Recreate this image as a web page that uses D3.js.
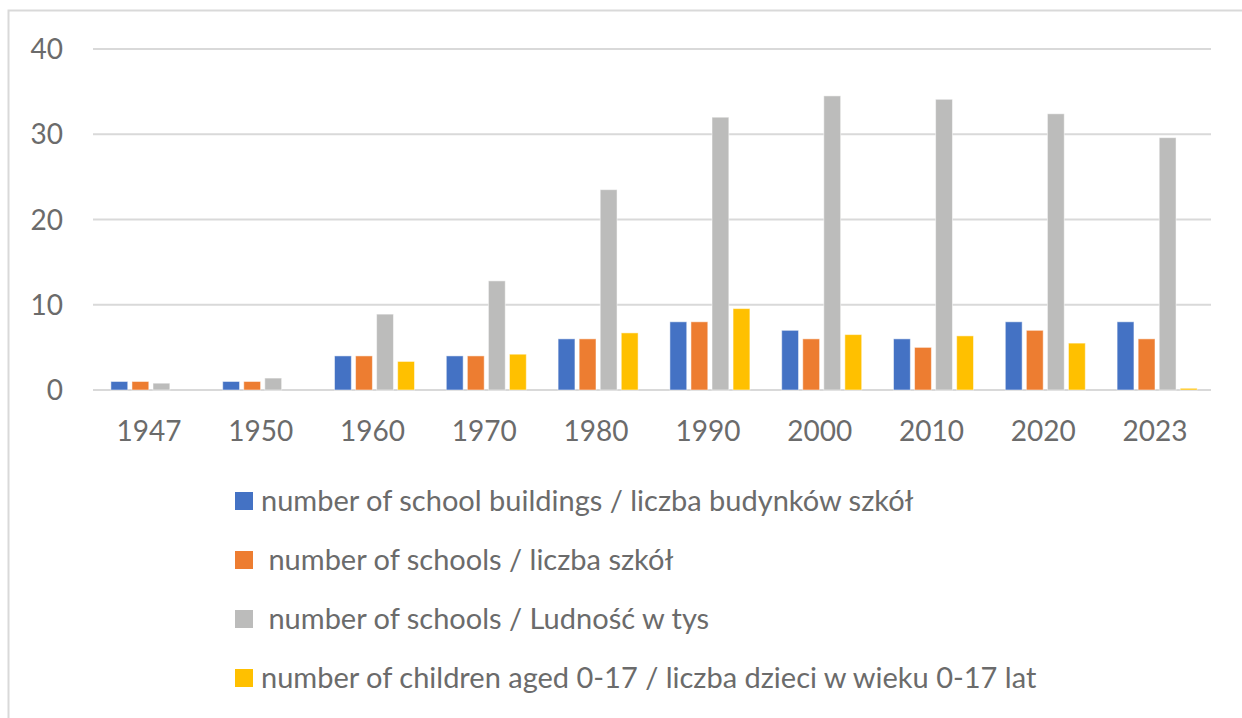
<!DOCTYPE html>
<html lang="en">
<head>
  <meta charset="UTF-8">
  <title>Schools chart</title>
  <style>
    body { margin: 0; background: #fff; }
    text { font-family: Lato, "Open Sans", sans-serif; fill: #6b6b6b; }
  </style>
</head>
<body>
  <svg id="chart" width="1242" height="718"></svg>
  <script src="https://d3js.org/d3.v7.min.js"></script>
  <script>
    var years = ["1947", "1950", "1960", "1970", "1980", "1990", "2000", "2010", "2020", "2023"];
    var buildings = [1, 1, 4, 4, 6, 8, 7, 6, 8, 8];
    var schools = [1, 1, 4, 4, 6, 8, 6, 5, 7, 6];
    var population = [0.8, 1.4, 8.9, 12.8, 23.5, 32.0, 34.5, 34.1, 32.4, 29.6];
    var children = [0, 0, 3.35, 4.2, 6.7, 9.55, 6.5, 6.35, 5.5, 0.2];
    var yTicks = [0, 10, 20, 30, 40];

    var series = [
      { name: "number of school buildings / liczba budynków szkół", values: buildings, color: "#4472c4" },
      { name: " number of schools / liczba szkół", values: schools, color: "#ed7d31" },
      { name: " number of schools / Ludność w tys", values: population, color: "#bcbcbb" },
      { name: "number of children aged 0-17 / liczba dzieci w wieku 0-17 lat", values: children, color: "#ffc000" }
    ];

    var svg = d3.select("#chart");

    // chart frame
    svg.append("rect")
      .attr("x", 8.5).attr("y", 10.5)
      .attr("width", 1250).attr("height", 720)
      .attr("fill", "none").attr("stroke", "#d9d9d9").attr("stroke-width", 2);

    var x = d3.scaleBand().domain(years).range([93, 1211]);
    var y = d3.scaleLinear().domain([0, 40]).range([390, 49]);
    var inner = d3.scaleBand().domain(d3.range(series.length))
      .range([0, 80]).paddingInner(0.2).paddingOuter(0);
    var offset = (x.bandwidth() - 76) / 2;

    // gridlines
    svg.append("g").selectAll("line")
      .data(yTicks)
      .join("line")
      .attr("x1", 93).attr("x2", 1211)
      .attr("y1", function(d) { return y(d); })
      .attr("y2", function(d) { return y(d); })
      .attr("stroke", "#d9d9d9").attr("stroke-width", 2);

    // y labels
    svg.append("g").selectAll("text")
      .data(yTicks)
      .join("text")
      .attr("x", 63).attr("y", function(d) { return y(d); })
      .attr("dy", "0.36em")
      .attr("text-anchor", "end")
      .attr("font-size", 28)
      .text(function(d) { return d; });

    // bars
    series.forEach(function(s, i) {
      svg.append("g").selectAll("rect")
        .data(s.values)
        .join("rect")
        .attr("x", function(d, j) { return x(years[j]) + offset + inner(i); })
        .attr("y", function(d) { return y(d); })
        .attr("width", inner.bandwidth())
        .attr("height", function(d) { return y(0) - y(d); })
        .attr("fill", s.color)
        .attr("stroke", "#fff").attr("stroke-opacity", 0.5).attr("stroke-width", 1);
    });

    // x labels
    svg.append("g").selectAll("text")
      .data(years)
      .join("text")
      .attr("x", function(d) { return x(d) + x.bandwidth() / 2; })
      .attr("y", 441)
      .attr("text-anchor", "middle")
      .attr("font-size", 28)
      .text(function(d) { return d; });

    // legend
    var legend = svg.append("g").selectAll("g")
      .data(series)
      .join("g")
      .attr("transform", function(d, i) { return "translate(235," + (501 + i * 59) + ")"; });

    legend.append("rect")
      .attr("x", 0).attr("y", -9)
      .attr("width", 18).attr("height", 18)
      .attr("fill", function(d) { return d.color; });

    legend.append("text")
      .attr("x", 26).attr("dy", "0.36em")
      .attr("font-size", 29)
      .attr("xml:space", "preserve")
      .style("white-space", "pre")
      .text(function(d) { return d.name; });
  </script>
</body>
</html>
